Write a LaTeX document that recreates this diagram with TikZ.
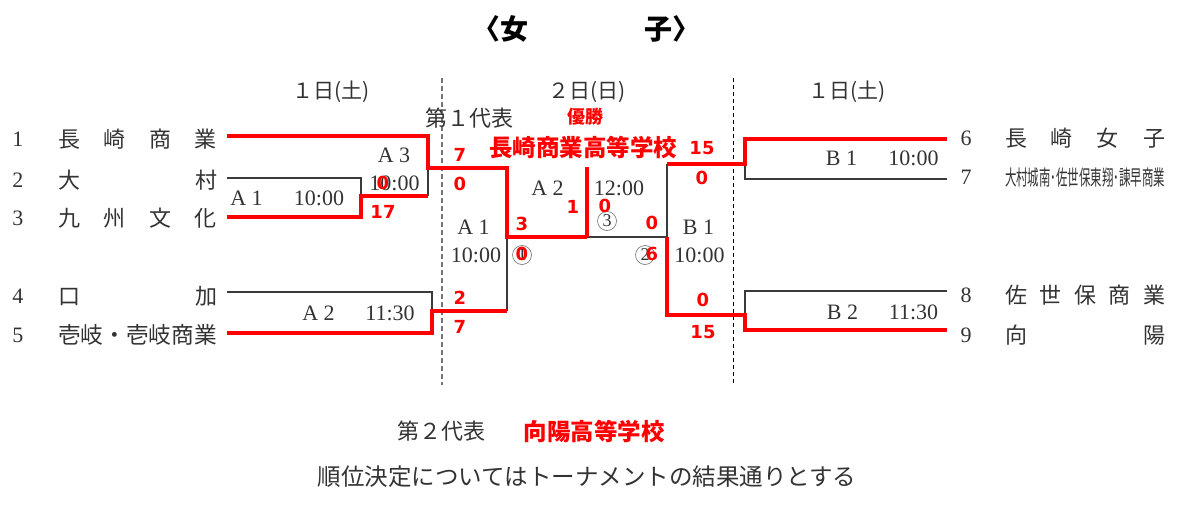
\documentclass[tikz,border=0pt]{standalone}
\usepackage{fontspec}
\newfontfamily\jp{Noto Sans CJK JP}
\newfontfamily\ser{Liberation Serif}
\newfontfamily\num{DejaVu Sans}
\newcommand\myfs[1]{\fontsize{#1}{#1}\selectfont}
\definecolor{ink}{HTML}{333333}
\definecolor{lineblk}{HTML}{3A3A3A}
\definecolor{rd}{HTML}{FF0000}
\tikzset{
  blk/.style={draw=lineblk, line width=1.5pt},
  redl/.style={draw=rd, line width=4pt},
  txt/.style={inner sep=0pt, text=ink, font=\jp\myfs{22}},
  lat/.style={inner sep=0pt, text=ink, font=\ser\myfs{22}},
  sc/.style={inner sep=0pt, text=rd, font=\num\bfseries\myfs{18}},
  rb/.style={inner sep=0pt, text=rd, font=\jp\bfseries\myfs{23.5}},
  circ/.style={draw=ink!70, line width=0.6pt, circle, minimum size=19pt, inner sep=0pt, text=ink, font=\ser\myfs{18}},
}
\begin{document}
\begin{tikzpicture}[x=1pt,y=-1pt]
\path[fill=white,use as bounding box] (0,0) rectangle (1182,516);

% title
\node[inner sep=0pt, text=black, font=\jp\bfseries\myfs{28}] (title) at (586,29) {\makebox[228pt]{〈女\hfill 子〉}};

% day headers
\node[txt, font=\jp\myfs{21}] (d1l) at (331,92) {１日(土)};
\node[txt, font=\jp\myfs{21}] (d2) at (587,92) {２日(日)};
\node[txt, font=\jp\myfs{21}] (d1r) at (847,92) {１日(土)};

% dashed separators
\coordinate (sepLt) at (442,78); \coordinate (sepLb) at (442,385);
\coordinate (sepRt) at (733,78); \coordinate (sepRb) at (733,385);
\draw[draw=black!55, line width=1.5pt, dash pattern=on 5pt off 3pt] (sepLt) -- (sepLb);
\draw[draw=black, line width=1pt, dash pattern=on 4pt off 3pt] (sepRt) -- (sepRb);

% left teams
\node[lat] (n1) at (18,139) {1};
\node[lat] (n2) at (18,180) {2};
\node[lat] (n3) at (18,218) {3};
\node[lat] (n4) at (18,296) {4};
\node[lat] (n5) at (18,335) {5};
\node[txt] (t1) at (137.5,139) {\makebox[159pt]{長\hfill 崎\hfill 商\hfill 業}};
\node[txt] (t2) at (137.5,180) {\makebox[159pt]{大\hfill 村}};
\node[txt] (t3) at (137.5,218) {\makebox[159pt]{九\hfill 州\hfill 文\hfill 化}};
\node[txt] (t4) at (137.5,296) {\makebox[159pt]{口\hfill 加}};
\node[txt, font=\jp\myfs{22.7}] (t5) at (137.5,335) {壱岐・壱岐商業};

% right teams
\node[lat] (n6) at (966,138) {6};
\node[lat] (n7) at (966,177) {7};
\node[lat] (n8) at (966,295) {8};
\node[lat] (n9) at (966,335) {9};
\node[txt] (t6) at (1085,138) {\makebox[160pt]{長\hfill 崎\hfill 女\hfill 子}};
\node[txt, font=\jp\myfs{21}] (t7) at (1085,178) {\resizebox{160pt}{\height}{大村城南･佐世保東翔･諫早商業}};
\node[txt] (t8) at (1085,295) {\makebox[160pt]{佐\hfill 世\hfill 保\hfill 商\hfill 業}};
\node[txt] (t9) at (1085,335) {\makebox[160pt]{向\hfill 陽}};

% bracket coordinates
\coordinate (a1) at (227,136);  \coordinate (a2) at (428,136);
\coordinate (a3) at (428,168);  \coordinate (a4) at (507,168);
\coordinate (fL) at (507,237);  \coordinate (fM) at (587,237);
\coordinate (ch) at (587,167);  \coordinate (fR) at (667,237);
\coordinate (b1) at (227,178);  \coordinate (b2) at (361,178);
\coordinate (bj) at (361,196);  \coordinate (c1) at (227,217);
\coordinate (c2) at (361,217);  \coordinate (cj) at (428,196);
\coordinate (d1) at (227,292);  \coordinate (d2) at (432,292);
\coordinate (dj) at (432,313);  \coordinate (e1) at (227,333);
\coordinate (e2) at (432,333);  \coordinate (e3) at (432,311);
\coordinate (e4) at (507,311);
\coordinate (r6a) at (947,139); \coordinate (r6b) at (745,139);
\coordinate (r6j) at (745,164); \coordinate (rT) at (667,164);
\coordinate (r7a) at (947,179); \coordinate (r7b) at (745,179);
\coordinate (r8a) at (947,291); \coordinate (r8b) at (745,291);
\coordinate (r9a) at (947,330); \coordinate (r9b) at (745,330);
\coordinate (r9j) at (745,315); \coordinate (rB) at (667,315);

% black bracket lines
\draw[blk] (b1) -- (b2) -- (bj);
\draw[blk] (cj) -- (a3);
\draw[blk] (d1) -- (d2) -- (dj);
\draw[blk] (e4) -- (fL);
\draw[blk] (fM) -- (fR) -- (rT);
\draw[blk] (r6j) -- (r7b) -- (r7a);
\draw[blk] (r9j) -- (r8b) -- (r8a);

% circled numbers
\node[circ] (c_one) at (522,255) {1};
\node[circ] (c_three) at (607,221) {3};
\node[circ] (c_two) at (645,255) {2};

% red winning lines
\draw[redl] (a1) -- (a2) -- (a3) -- (a4) -- (fL) -- (fM);
\draw[redl] (fM) -- (ch);
\draw[redl] (c1) -- (c2) -- (bj) -- (cj);
\draw[redl] (e1) -- (e2) -- (e3) -- (e4);
\draw[redl] (rT) -- (r6j) -- (r6b) -- (r6a);
\draw[redl] (fR) -- (rB) -- (r9j) -- (r9b) -- (r9a);

% match labels
\node[lat] (lA1) at (246.5,198) {A 1};
\node[lat] (lA1t) at (319,198) {10:00};
\node[lat] (lA3) at (394,155) {A 3};
\node[lat] (lA3t) at (394.5,183) {10:00};
\node[lat] (lA2) at (318.5,313) {A 2};
\node[lat] (lA2t) at (390,313) {11:30};
\node[lat] (cA2) at (547.5,188) {A 2};
\node[lat] (cA2t) at (619,188) {12:00};
\node[lat] (cA1) at (473.5,227) {A 1};
\node[lat] (cA1t) at (476,255) {10:00};
\node[lat] (cB1) at (698.5,227) {B 1};
\node[lat] (cB1t) at (699.5,255) {10:00};
\node[lat] (rB1) at (841.5,158) {B 1};
\node[lat] (rB1t) at (913.5,158) {10:00};
\node[lat] (rB2) at (842.5,312) {B 2};
\node[lat] (rB2t) at (913.5,312) {11:30};

% representative labels
\node[txt] (rep1) at (469,118) {第１代表};
\node[inner sep=0pt, text=rd, font=\jp\bfseries\myfs{18}] (win) at (585,117) {優勝};
\node[rb] (champ) at (583,147) {長崎商業高等学校};

% red scores
\node[sc] (s1) at (383,183) {0};
\node[sc] (s2) at (383,212) {17};
\node[sc] (s3) at (460,155) {7};
\node[sc] (s4) at (460,184) {0};
\node[sc] (s5) at (522,224) {3};
\node[sc] (s6) at (522,254) {0};
\node[sc] (s7) at (573,207) {1};
\node[sc] (s8) at (605,206) {0};
\node[sc] (s9) at (652,223) {0};
\node[sc] (s10) at (652,254) {6};
\node[sc] (s11) at (460,298) {2};
\node[sc] (s12) at (460,327) {7};
\node[sc] (s13) at (702,148) {15};
\node[sc] (s14) at (702,178) {0};
\node[sc] (s15) at (703,300) {0};
\node[sc] (s16) at (703,332) {15};

% bottom
\node[txt] (rep2) at (441,431) {第２代表};
\node[rb] (second) at (594,431) {向陽高等学校};
\node[txt, font=\jp\myfs{23.5}] (note) at (587,477) {順位決定についてはトーナメントの結果通りとする};
\end{tikzpicture}
\end{document}
